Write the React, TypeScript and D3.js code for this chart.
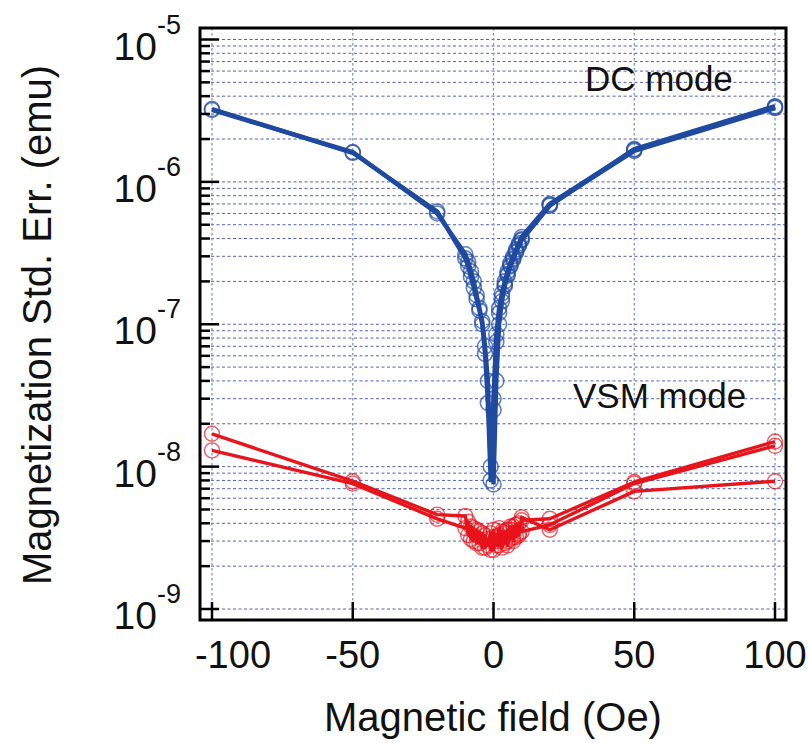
import React from "react";
import * as d3 from "d3";

const xTicks = [-100, -50, 0, 50, 100];
const xTickLabels = ["-100", "-50", "0", "50", "100"];
const yExponents = [-9, -8, -7, -6, -5];

// DC mode (blue) branches
const dcDownField = [100, 50, 20, 10, 9, 8, 7, 6, 5, 4, 3, 2, 1, 0, -1, -2, -3, -4, -5, -6, -7, -8, -9, -10, -20, -50, -100];
const dcDownValue = [3.35e-6, 1.68e-6, 7.0e-7, 4.1e-7, 3.7e-7, 3.35e-7, 3.0e-7, 2.7e-7, 2.35e-7, 2.0e-7, 1.65e-7, 1.3e-7, 8.5e-8, 3.0e-8, 8e-9, 2.8e-8, 6.2e-8, 1.0e-7, 1.25e-7, 1.5e-7, 1.8e-7, 2.15e-7, 2.55e-7, 2.9e-7, 6.2e-7, 1.6e-6, 3.25e-6];
const dcUpField = [-100, -50, -20, -10, -9, -8, -7, -6, -5, -4, -3, -2, -1, 0, 1, 2, 3, 4, 5, 6, 7, 8, 9, 10, 20, 50, 100];
const dcUpValue = [3.2e-6, 1.62e-6, 6.0e-7, 3.1e-7, 2.75e-7, 2.35e-7, 2.0e-7, 1.6e-7, 1.3e-7, 1.05e-7, 7e-8, 4e-8, 1.0e-8, 2.5e-8, 7.5e-8, 1.2e-7, 1.55e-7, 1.9e-7, 2.25e-7, 2.6e-7, 2.9e-7, 3.25e-7, 3.6e-7, 3.95e-7, 6.8e-7, 1.7e-6, 3.4e-6];
const dcVirginField = [0, 1, 2, 3, 4, 5, 6, 7, 8, 9, 10, 20, 50, 100];
const dcVirginValue = [7.5e-9, 4e-8, 1.0e-7, 1.45e-7, 1.85e-7, 2.2e-7, 2.55e-7, 2.85e-7, 3.2e-7, 3.55e-7, 3.9e-7, 6.9e-7, 1.65e-6, 3.3e-6];

// VSM mode (red) branches
const vsmDownField = [100, 50, 20, 10, 9, 8, 7, 6, 5, 4, 3, 2, 1, 0, -1, -2, -3, -4, -5, -6, -7, -8, -9, -10, -20, -50, -100];
const vsmDownValue = [1.5e-8, 7.8e-9, 4.3e-9, 4.2e-9, 3.4e-9, 3.9e-9, 3.0e-9, 3.6e-9, 2.8e-9, 3.4e-9, 2.7e-9, 3.3e-9, 2.8e-9, 3.2e-9, 2.6e-9, 3.1e-9, 2.7e-9, 3.4e-9, 2.9e-9, 3.6e-9, 3.0e-9, 3.8e-9, 3.3e-9, 4.5e-9, 4.6e-9, 7.9e-9, 1.7e-8];
const vsmUpField = [-100, -50, -20, -10, -9, -8, -7, -6, -5, -4, -3, -2, -1, 0, 1, 2, 3, 4, 5, 6, 7, 8, 9, 10, 20, 50, 100];
const vsmUpValue = [1.3e-8, 7.6e-9, 4.3e-9, 3.7e-9, 4.1e-9, 3.1e-9, 3.7e-9, 2.9e-9, 3.5e-9, 2.7e-9, 3.3e-9, 2.8e-9, 3.4e-9, 2.6e-9, 3.2e-9, 2.8e-9, 3.5e-9, 2.9e-9, 3.6e-9, 3.1e-9, 3.8e-9, 3.2e-9, 4.0e-9, 3.5e-9, 3.9e-9, 7.6e-9, 1.4e-8];
const vsmVirginField = [0, 1, 2, 3, 4, 5, 6, 7, 8, 9, 10, 20, 50, 100];
const vsmVirginValue = [3.6e-9, 3.0e-9, 3.7e-9, 3.1e-9, 3.5e-9, 3.0e-9, 3.8e-9, 3.2e-9, 3.9e-9, 3.3e-9, 4.4e-9, 3.6e-9, 6.7e-9, 7.9e-9];

const W = 808;
const H = 743;
const FRAME = { left: 200, right: 786, top: 28, bottom: 620 };
const FONT = "'Liberation Sans', Arial, Helvetica, sans-serif";
const BLUE = "#1f4aa0";
const RED = "#e8141c";

const x = d3.scaleLinear().domain([-100, 100]).range([212, 775]);
const y = d3.scaleLog().domain([1e-9, 1e-5]).range([609, 39.5]);

type Pt = [number, number];
const zip = (f: number[], v: number[]): Pt[] => f.map((d, i) => [d, v[i]]);

const line = d3
  .line<Pt>()
  .x((d) => x(d[0]))
  .y((d) => y(d[1]));

const blueSeries = [
  zip(dcVirginField, dcVirginValue),
  zip(dcDownField, dcDownValue),
  zip(dcUpField, dcUpValue),
];
const redSeries = [
  zip(vsmVirginField, vsmVirginValue),
  zip(vsmDownField, vsmDownValue),
  zip(vsmUpField, vsmUpValue),
];

export default function App() {
  const minor: number[] = [];
  for (let e = -9; e <= -5; e++) {
    for (let m = 1; m <= 9; m++) {
      const v = m * Math.pow(10, e);
      if (v <= 1.0000001e-5) minor.push(v);
    }
  }
  return (
    <svg
      width={W}
      height={H}
      style={{ position: "absolute", left: 0, top: 0, background: "#fff" }}
      fontFamily={FONT}
    >
      <rect x={0} y={0} width={W} height={H} fill="#fff" />
      {minor.map((v, i) => (
        <line
          key={"hg" + i}
          x1={FRAME.left}
          x2={FRAME.right}
          y1={y(v)}
          y2={y(v)}
          stroke="#3d50b0"
          strokeWidth={1}
          strokeDasharray="3,2.5"
          opacity={0.9}
        />
      ))}
      {xTicks.map((t) => (
        <line
          key={"vg" + t}
          x1={x(t)}
          x2={x(t)}
          y1={FRAME.top}
          y2={FRAME.bottom}
          stroke="#8090d0"
          strokeWidth={1.3}
          strokeDasharray="2.5,2.5"
        />
      ))}

      {redSeries.map((s, i) => (
        <path key={"rl" + i} d={line(s) || ""} fill="none" stroke={RED} strokeWidth={3.4} strokeLinejoin="round" />
      ))}
      {redSeries.map((s, i) =>
        s.map((d, j) => (
          <circle key={"rc" + i + "-" + j} cx={x(d[0])} cy={y(d[1])} r={7.5} fill="none" stroke={RED} strokeWidth={1.4} opacity={0.7} />
        ))
      )}

      {blueSeries.map((s, i) => (
        <path key={"bl" + i} d={line(s) || ""} fill="none" stroke={BLUE} strokeWidth={4.4} strokeLinejoin="round" />
      ))}
      {blueSeries.map((s, i) =>
        s.map((d, j) => (
          <circle key={"bc" + i + "-" + j} cx={x(d[0])} cy={y(d[1])} r={7.5} fill="none" stroke={BLUE} strokeWidth={1.6} opacity={0.7} />
        ))
      )}

      {minor.map((v, i) => {
        const major = Math.abs(Math.log10(v) - Math.round(Math.log10(v))) < 1e-6;
        return (
          <line
            key={"yt" + i}
            x1={FRAME.left}
            x2={FRAME.left + (major ? 19 : 10)}
            y1={y(v)}
            y2={y(v)}
            stroke="#000"
            strokeWidth={2.5}
          />
        );
      })}
      {xTicks.map((t) => (
        <line key={"xt" + t} x1={x(t)} x2={x(t)} y1={FRAME.bottom} y2={FRAME.bottom - 18} stroke="#000" strokeWidth={2.5} />
      ))}

      <rect
        x={FRAME.left}
        y={FRAME.top}
        width={FRAME.right - FRAME.left}
        height={FRAME.bottom - FRAME.top}
        fill="none"
        stroke="#000"
        strokeWidth={3}
      />

      {yExponents.map((e) => {
        const yy = y(Math.pow(10, e));
        return (
          <g key={"yl" + e}>
            <text x={157} y={yy + 20} textAnchor="end" fontSize={39} fill="#111">
              10
            </text>
            <text x={157} y={yy - 6} textAnchor="start" fontSize={27} fill="#111">
              {String(e)}
            </text>
          </g>
        );
      })}

      {xTicks.map((t, i) => (
        <text
          key={"xl" + t}
          x={x(t) + (i === 0 ? 21 : 0)}
          y={668}
          textAnchor="middle"
          fontSize={38}
          fill="#111"
        >
          {xTickLabels[i]}
        </text>
      ))}

      <text x={493} y={731} textAnchor="middle" fontSize={40} fill="#111">
        Magnetic field (Oe)
      </text>
      <text
        transform={`translate(51, 325) rotate(-90)`}
        textAnchor="middle"
        fontSize={40}
        fill="#111"
      >
        Magnetization Std. Err. (emu)
      </text>

      <text x={585} y={91} fontSize={35} fill="#111">
        DC mode
      </text>
      <text x={573} y={408} fontSize={35} fill="#111">
        VSM mode
      </text>
    </svg>
  );
}
